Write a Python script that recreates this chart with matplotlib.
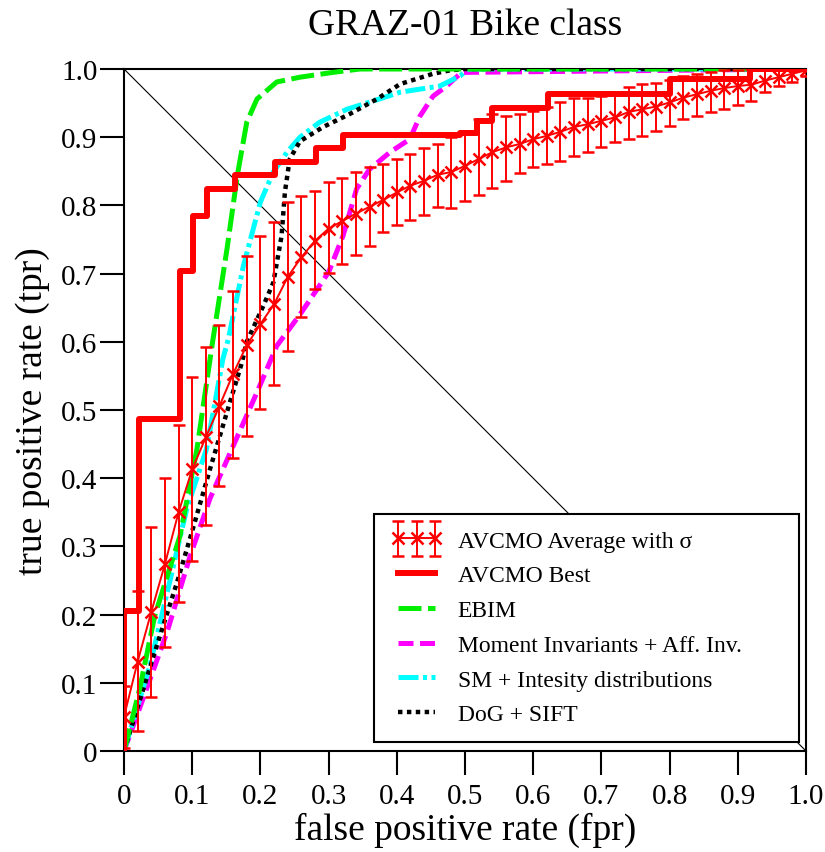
import matplotlib
matplotlib.use("Agg")
import matplotlib.pyplot as plt
from matplotlib.container import ErrorbarContainer
from matplotlib.legend_handler import HandlerErrorbar
import numpy as np

plt.rcParams['font.family'] = ['Liberation Serif', 'DejaVu Serif']

# AVCMO average with sigma (fpr step 0.02)
avg_fpr = [0.00, 0.02, 0.04, 0.06, 0.08, 0.10, 0.12, 0.14, 0.16, 0.18,
           0.20, 0.22, 0.24, 0.26, 0.28, 0.30, 0.32, 0.34, 0.36, 0.38,
           0.40, 0.42, 0.44, 0.46, 0.48, 0.50, 0.52, 0.54, 0.56, 0.58,
           0.60, 0.62, 0.64, 0.66, 0.68, 0.70, 0.72, 0.74, 0.76, 0.78,
           0.80, 0.82, 0.84, 0.86, 0.88, 0.90, 0.92, 0.94, 0.96, 0.98, 1.00]
avg_tpr = [0.050, 0.131, 0.204, 0.274, 0.350, 0.413, 0.460, 0.506, 0.553, 0.595,
           0.626, 0.655, 0.695, 0.724, 0.748, 0.766, 0.777, 0.788, 0.798, 0.808,
           0.819, 0.829, 0.836, 0.845, 0.849, 0.858, 0.868, 0.878, 0.885, 0.890,
           0.897, 0.902, 0.908, 0.915, 0.919, 0.924, 0.929, 0.937, 0.941, 0.945,
           0.951, 0.958, 0.963, 0.968, 0.972, 0.975, 0.977, 0.983, 0.988, 0.993, 0.998]
avg_hi = [0.095, 0.235, 0.328, 0.400, 0.478, 0.548, 0.592, 0.625, 0.674, 0.726,
          0.755, 0.776, 0.805, 0.814, 0.821, 0.834, 0.840, 0.849, 0.857, 0.860,
          0.868, 0.875, 0.884, 0.890, 0.900, 0.909, 0.927, 0.934, 0.931, 0.934,
          0.938, 0.944, 0.951, 0.957, 0.958, 0.960, 0.966, 0.973, 0.978, 0.980,
          0.984, 0.990, 0.993, 0.996, 0.998, 0.999, 1.000, 1.000, 1.000, 1.000, 1.000]
avg_lo = [0.005, 0.030, 0.079, 0.152, 0.218, 0.279, 0.331, 0.389, 0.430, 0.462,
          0.501, 0.537, 0.587, 0.636, 0.677, 0.701, 0.714, 0.727, 0.741, 0.761,
          0.771, 0.778, 0.786, 0.797, 0.796, 0.807, 0.815, 0.825, 0.836, 0.847,
          0.856, 0.860, 0.865, 0.872, 0.879, 0.885, 0.893, 0.898, 0.902, 0.909,
          0.916, 0.926, 0.931, 0.937, 0.942, 0.947, 0.953, 0.966, 0.975, 0.981, 0.990]

# AVCMO best (step curve)
best_fpr = [0.0, 0.0, 0.022, 0.082, 0.101, 0.121, 0.163, 0.221, 0.282, 0.321,
            0.493, 0.518, 0.540, 0.622, 0.800, 0.918, 1.0]
best_tpr = [0.0, 0.205, 0.487, 0.704, 0.785, 0.824, 0.845, 0.864, 0.884, 0.903,
            0.906, 0.924, 0.943, 0.963, 0.985, 1.0, 1.0]

ebim_fpr = [0.0, 0.023, 0.045, 0.082, 0.107, 0.129, 0.151, 0.166, 0.180, 0.195,
            0.224, 0.258, 0.306, 0.346, 1.0]
ebim_tpr = [0.0, 0.091, 0.198, 0.315, 0.443, 0.594, 0.736, 0.843, 0.922, 0.956,
            0.981, 0.988, 0.995, 1.0, 1.0]

mi_fpr = [0.0, 0.019, 0.063, 0.097, 0.126, 0.160, 0.195, 0.224, 0.258, 0.300,
          0.321, 0.341, 0.360, 0.390, 0.419, 0.434, 0.453, 0.473, 0.495, 1.0]
mi_tpr = [0.0, 0.052, 0.174, 0.286, 0.370, 0.447, 0.526, 0.594, 0.640, 0.702,
          0.755, 0.824, 0.853, 0.878, 0.897, 0.931, 0.960, 0.975, 0.995, 1.0]

sm_fpr = [0.0, 0.038, 0.067, 0.092, 0.121, 0.145, 0.153, 0.175, 0.200, 0.219,
          0.239, 0.258, 0.287, 0.327, 0.365, 0.405, 0.463, 0.493, 0.505, 1.0]
sm_tpr = [0.0, 0.125, 0.248, 0.355, 0.443, 0.575, 0.604, 0.711, 0.805, 0.849,
          0.878, 0.900, 0.922, 0.941, 0.953, 0.966, 0.975, 0.990, 1.0, 1.0]

dog_fpr = [0.0, 0.048, 0.078, 0.101, 0.126, 0.151, 0.173, 0.180, 0.204, 0.219,
           0.231, 0.236, 0.243, 0.258, 0.292, 0.331, 0.371, 0.405, 0.453, 0.478, 0.50, 1.0]
dog_tpr = [0.0, 0.154, 0.248, 0.326, 0.413, 0.497, 0.570, 0.600, 0.652, 0.687,
           0.755, 0.820, 0.868, 0.894, 0.915, 0.934, 0.956, 0.978, 0.993, 0.998, 1.0, 1.0]

fig = plt.figure(figsize=(8.25, 8.53), dpi=100)
ax = fig.add_axes([124 / 825, (853 - 752) / 853, 682 / 825, 682 / 853])

# chance diagonal
ax.plot([0, 1], [1, 0], color='black', lw=0.8, zorder=1)

mean = np.array(avg_tpr)
yerr = [mean - np.array(avg_lo), np.array(avg_hi) - mean]

ax.plot(mi_fpr, mi_tpr, color='#ff00ff', lw=3.6, dashes=(3, 1.3), zorder=2,
        label='Moment Invariants + Aff. Inv.')
ax.plot(sm_fpr, sm_tpr, color='#00ffff', lw=3.6, dashes=(4, 0.9, 0.8, 0.9), zorder=2,
        label='SM + Intesity distributions')
ax.plot(dog_fpr, dog_tpr, color='black', lw=3.2, dashes=(1, 1), zorder=3,
        label='DoG + SIFT')
ax.plot(ebim_fpr, ebim_tpr, color='#00ee00', lw=3.6, dashes=(4.6, 1.3), zorder=3,
        label='EBIM')
ax.plot(best_fpr, best_tpr, color='red', lw=4.3, drawstyle='steps-post', zorder=4,
        label='AVCMO Best')
eb = ax.errorbar(avg_fpr, avg_tpr, yerr=yerr, color='red', lw=1.4, elinewidth=1.4,
                 capsize=4.5, capthick=1.4, marker='x', markersize=8, mew=1.8,
                 zorder=5, label='AVCMO Average with σ')

ax.set_xlim(0, 1)
ax.set_ylim(0, 1)
ticks = [0, 0.1, 0.2, 0.3, 0.4, 0.5, 0.6, 0.7, 0.8, 0.9, 1.0]
tick_labels = ['0', '0.1', '0.2', '0.3', '0.4', '0.5', '0.6', '0.7', '0.8', '0.9', '1.0']
ax.set_xticks(ticks)
ax.set_xticklabels(tick_labels)
ax.set_yticks(ticks)
ax.set_yticklabels(tick_labels)
ax.tick_params(direction='out', length=17, width=1.5, labelsize=21, pad=2)
ax.tick_params(axis='x', pad=6)
for s in ax.spines.values():
    s.set_linewidth(1.5)

ax.set_title('GRAZ-01 Bike class', fontsize=27, pad=25)
ax.set_xlabel('false positive rate (fpr)', fontsize=27, labelpad=2)
ax.set_ylabel('true positive rate (tpr)', fontsize=27, labelpad=8)

handles, labels = ax.get_legend_handles_labels()
order = ['AVCMO Average with σ', 'AVCMO Best', 'EBIM', 'Moment Invariants + Aff. Inv.',
         'SM + Intesity distributions', 'DoG + SIFT']
hmap = dict(zip(labels, handles))
leg = ax.legend([hmap[k] for k in order], order, loc='lower left', mode='expand',
                bbox_to_anchor=(374 / 825, (853 - 743) / 853, 425 / 825, 227 / 853),
                bbox_transform=fig.transFigure,
                borderaxespad=0, fontsize=17, numpoints=3, handlelength=2.2,
                handletextpad=0.65, labelspacing=0.56, fancybox=False, framealpha=1,
                edgecolor='black', borderpad=0.7,
                handler_map={ErrorbarContainer: HandlerErrorbar(yerr_size=0.75)})
leg.get_frame().set_linewidth(1.5)

fig.savefig('out.png', dpi=100)
